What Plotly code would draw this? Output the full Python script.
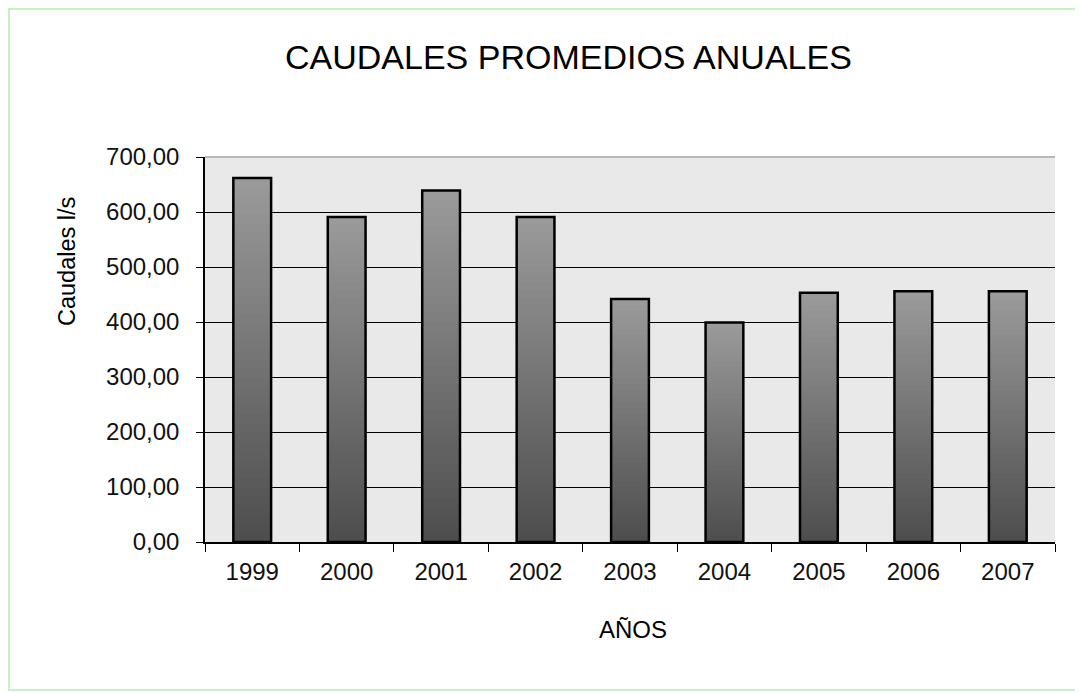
import plotly.graph_objects as go

years = ["1999", "2000", "2001", "2002", "2003", "2004", "2005", "2006", "2007"]
caudales = [662, 591, 639, 591, 442, 399, 453, 456, 456]

# figure is placed by the browser at (8, 8) on the page
OFF = 8
W, H = 1083 - OFF, 693 - OFF
PX0, PX1, PY0, PY1 = 205, 1055, 157, 542   # plot area in screen pixels
L, R, T, B = PX0 - OFF, W - (PX1 - OFF), PY0 - OFF, H - (PY1 - OFF)

fig = go.Figure()

# gradient effect: layered bars (light at top, dark at bottom)
N = 40
top_rgb = (0x9a, 0x9a, 0x9a)
bot_rgb = (0x4c, 0x4c, 0x4c)
for i in range(N):
    f = 1 - i / N
    c = tuple(int(round(b + (t - b) * f)) for t, b in zip(top_rgb, bot_rgb))
    fig.add_trace(go.Bar(
        x=years, y=[v * f for v in caudales], width=0.4,
        marker=dict(color="rgb(%d,%d,%d)" % c, line=dict(width=0)),
        hoverinfo="skip", showlegend=False))
fig.add_trace(go.Bar(
    x=years, y=caudales, width=0.4,
    marker=dict(color="rgba(0,0,0,0)", line=dict(color="black", width=2.5)),
    showlegend=False, name="Caudales"))

pw = PX1 - PX0
ph = PY1 - PY0
def sx(p):
    return (p - PX0) / pw
def sy(p):
    return (PY1 - p) / ph

fnt = "Liberation Sans, Arial, sans-serif"
fig.update_layout(
    width=W, height=H, barmode="overlay",
    margin=dict(l=L, r=R, t=T, b=B),
    paper_bgcolor="white", plot_bgcolor="#e9e9e9",
    separators=",.",
    font=dict(family=fnt, color="black"),
    xaxis=dict(type="category", tickson="boundaries", ticks="outside", ticklen=8,
               tickcolor="black", showline=True, linecolor="black", linewidth=1.5,
               showgrid=False, tickfont=dict(size=24, color="#111"),
               ticklabelstandoff=7),
    yaxis=dict(range=[0, 700], dtick=100, tickformat=".2f", ticks="outside", ticklen=7,
               tickcolor="black", showline=True, linecolor="black", linewidth=1.5,
               gridcolor="black", gridwidth=1.2, zeroline=False,
               tickfont=dict(size=24, color="#111"), ticklabelstandoff=12),
    annotations=[
        dict(text="CAUDALES PROMEDIOS ANUALES", xref="paper", yref="paper",
             x=sx(568), y=sy(57), xanchor="center", yanchor="middle",
             showarrow=False, font=dict(size=34, family=fnt)),
        dict(text="Caudales l/s", xref="paper", yref="paper",
             x=sx(67), y=sy(262), xanchor="center", yanchor="middle", textangle=-90,
             showarrow=False, font=dict(size=23.5, family=fnt)),
        dict(text="AÑOS", xref="paper", yref="paper",
             x=sx(633), y=sy(629), xanchor="center", yanchor="middle",
             showarrow=False, font=dict(size=24, family=fnt)),
    ],
    shapes=[
        dict(type="line", xref="paper", yref="paper", x0=0, x1=1, y0=1, y1=1,
             line=dict(color="#b8b8b8", width=2)),
        dict(type="rect", xref="paper", yref="paper",
             x0=sx(9), x1=sx(1080), y0=sy(9), y1=sy(690),
             line=dict(color="#c6f2c6", width=2)),
    ],
)

fig.write_html("out.html")
